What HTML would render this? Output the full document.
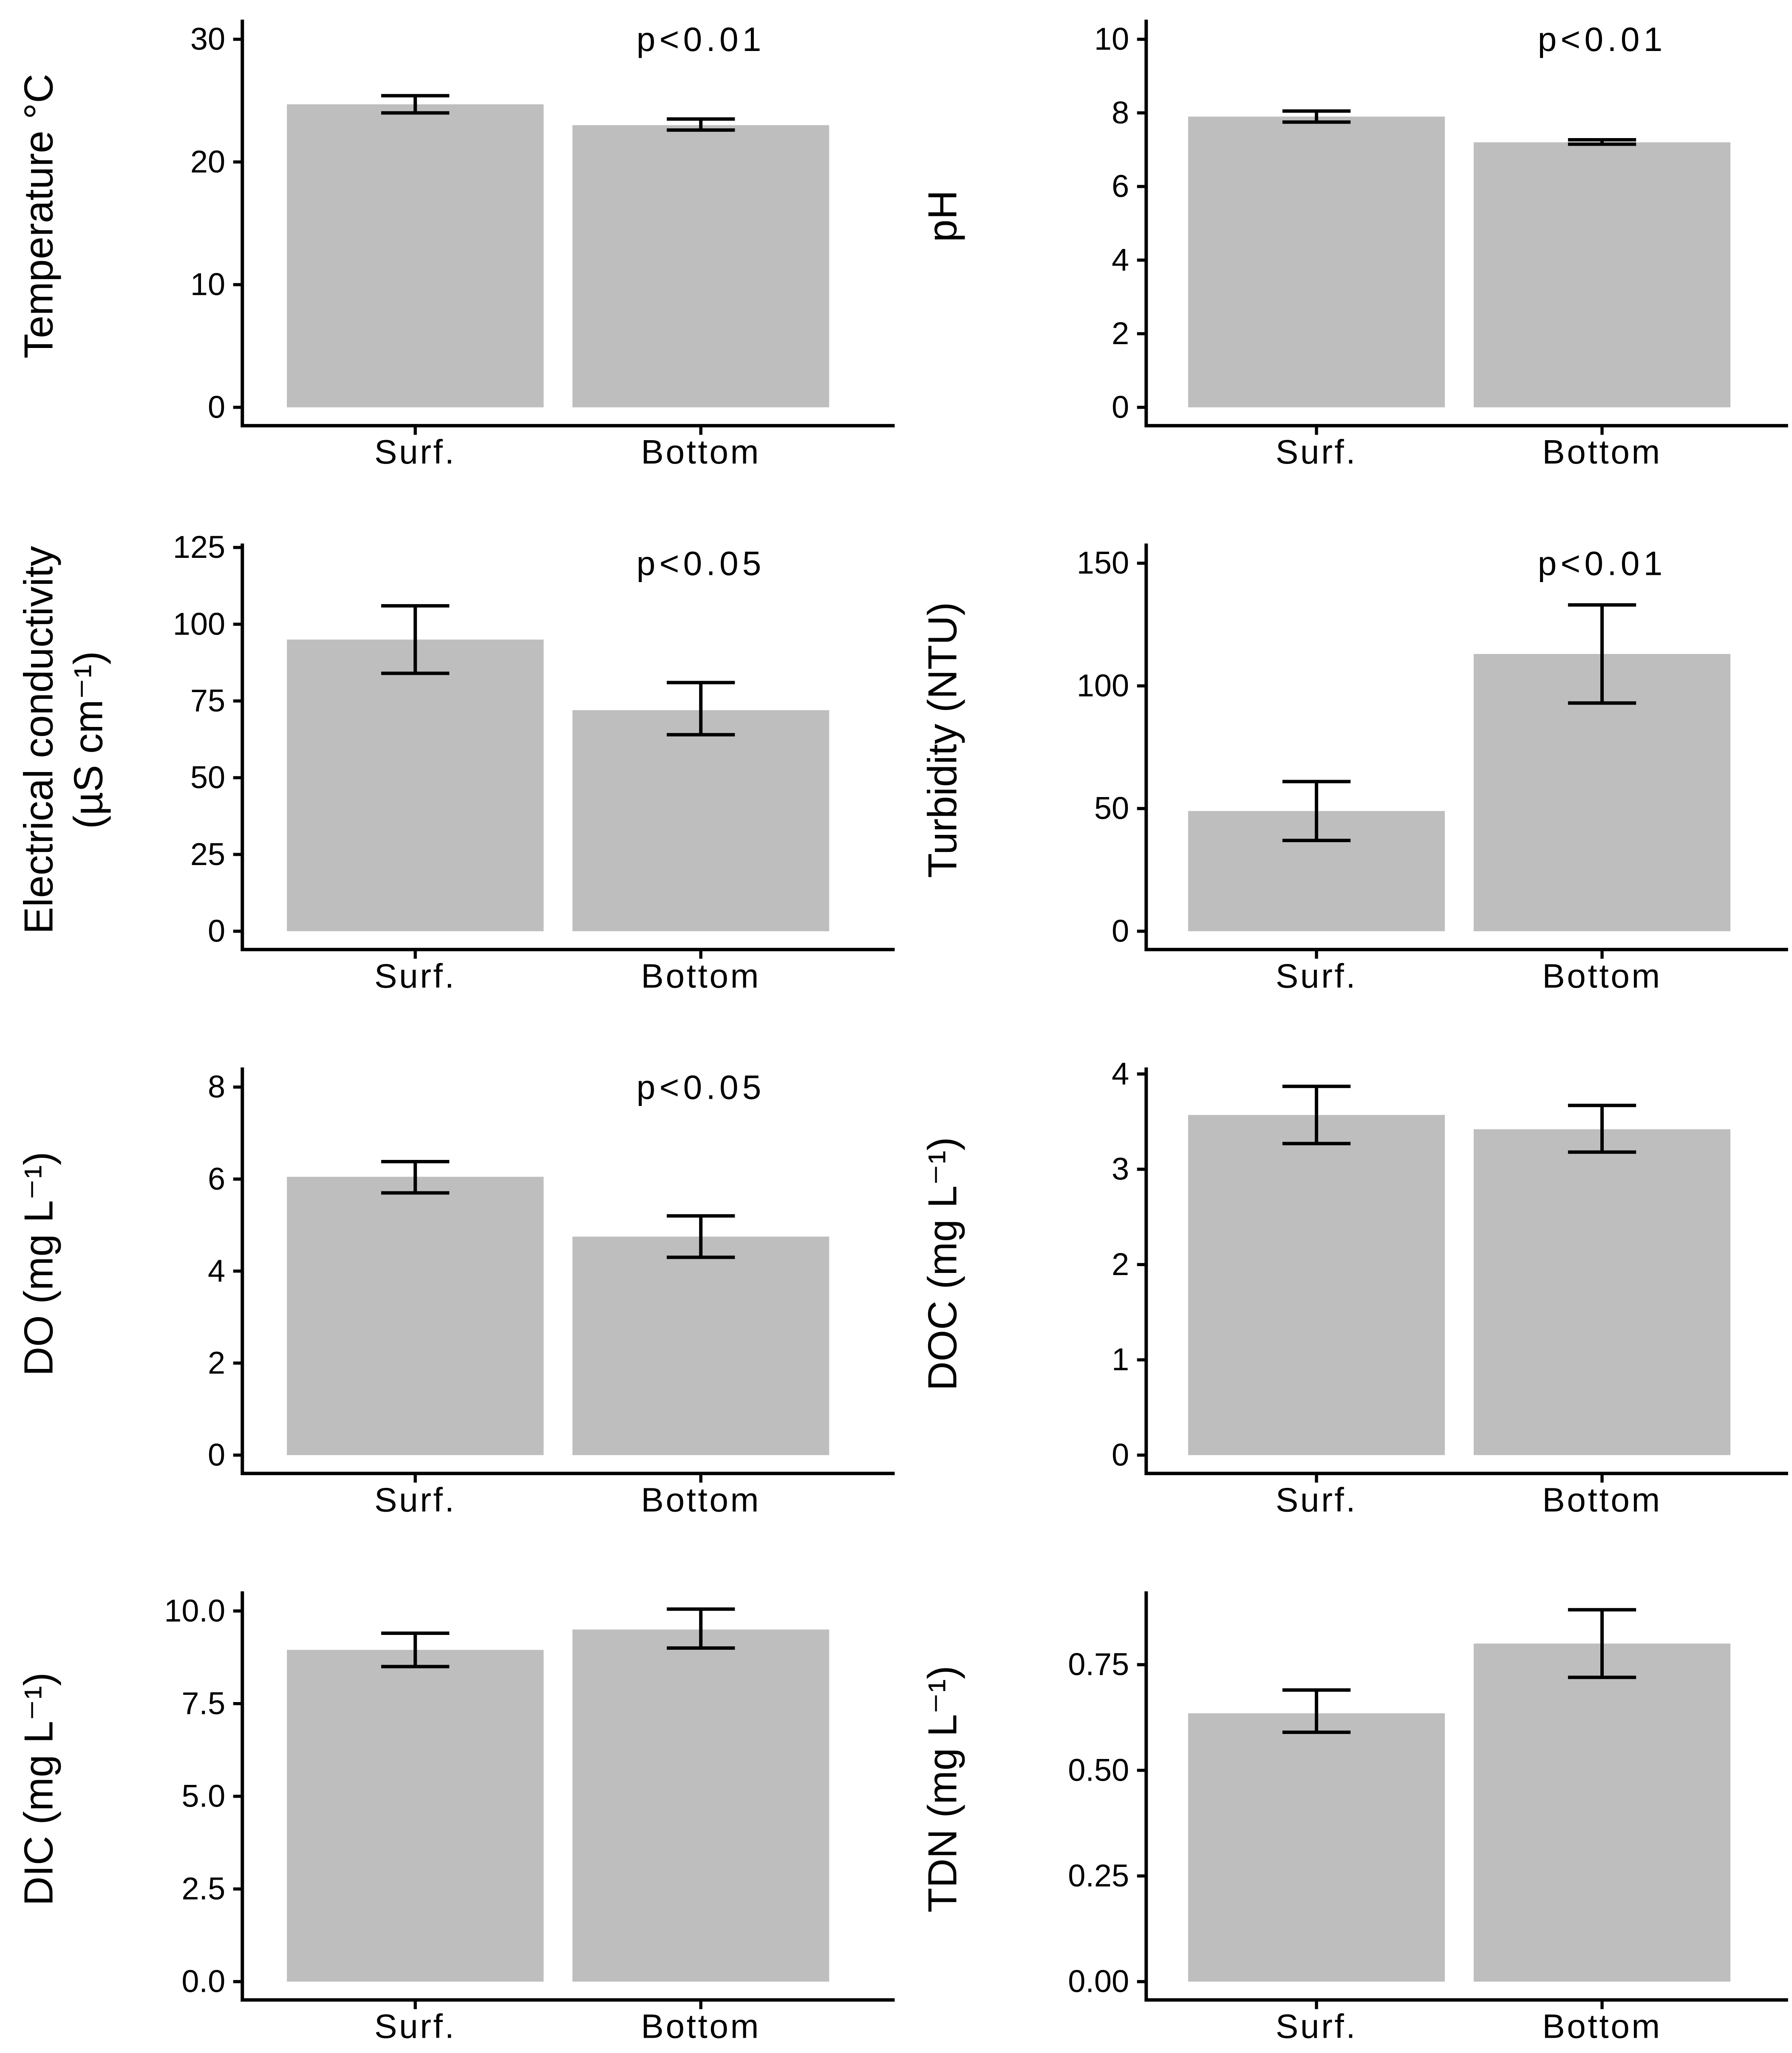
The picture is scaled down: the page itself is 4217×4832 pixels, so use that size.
<!DOCTYPE html>
<html><head><meta charset="utf-8"><style>
html,body{margin:0;padding:0;background:#fff;}
svg{display:block;}
text{font-family:"Liberation Sans",Arial,sans-serif;fill:#000;}
</style></head>
<body>
<svg id="chart" width="4217" height="4832" viewBox="0 0 1368 1567.5" preserveAspectRatio="none" xmlns="http://www.w3.org/2000/svg"></svg>
<script>
const categories = ["Surf.", "Bottom"];
const panelNames = ["temperature","ph","conductivity","turbidity","do","doc","dic","tdn"];
const titles = [["Temperature \u00B0C"],["pH"],["Electrical conductivity","(\u00B5S cm\u207B\u00B9)"],["Turbidity (NTU)"],["DO (mg L\u207B\u00B9)"],["DOC (mg L\u207B\u00B9)"],["DIC (mg L\u207B\u00B9)"],["TDN (mg L\u207B\u00B9)"]];
const means = [[24.7,23.0],[7.9,7.2],[95,72],[49,113],[6.05,4.75],[3.57,3.42],[8.95,9.5],[0.635,0.80]];
const lows  = [[24.0,22.6],[7.75,7.15],[84,64],[37,93],[5.7,4.3],[3.27,3.18],[8.5,9.0],[0.59,0.72]];
const highs = [[25.4,23.5],[8.05,7.27],[106,81],[61,133],[6.38,5.2],[3.87,3.67],[9.4,10.05],[0.69,0.88]];
const tickVals = [[0,10,20,30],[0,2,4,6,8,10],[0,25,50,75,100,125],[0,50,100,150],[0,2,4,6,8],[0,1,2,3,4],[0,2.5,5,7.5,10],[0,0.25,0.5,0.75]];
const tickLabels = [["0","10","20","30"],["0","2","4","6","8","10"],["0","25","50","75","100","125"],["0","50","100","150"],["0","2","4","6","8"],["0","1","2","3","4"],["0.0","2.5","5.0","7.5","10.0"],["0.00","0.25","0.50","0.75"]];
const pLabels = ["p<0.01","p<0.01","p<0.05","p<0.01","p<0.05","","",""];
// layout (not data)
const rowTop=[15,415,815,1215], rowBot=[325,725,1125,1527], zeroY=[311,711,1111,1513];
const topValY=[30,30,418,430,830,820,1230,1271];
const NS="http://www.w3.org/2000/svg";
const svg=document.getElementById('chart');
function mk(tag,attrs,parent){const e=document.createElementNS(NS,tag);for(const k in attrs)e.setAttribute(k,attrs[k]);(parent||svg).appendChild(e);return e;}
panelNames.forEach((nm,i)=>{
  const col=i%2,row=Math.floor(i/2);
  const ax=col?875:185, xEnd=col?1365:683;
  const y0=zeroY[row], tv=tickVals[i];
  const tmax=tv[tv.length-1];
  const ys=v=>y0-(v/tmax)*(y0-topValY[i]);
  const barX=[col?907:219, col?1125:437], bw=196;
  const g=mk('g',{});
  
  
  categories.forEach((c,j)=>{
    const r=mk('rect',{x:barX[j],y:ys(means[i][j]),width:bw,height:y0-ys(means[i][j]),fill:'#bebebe'},g);
    
    
    const cx=barX[j]+bw/2;
    const eb=mk('path',{d:`M${cx-26},${ys(highs[i][j])}H${cx+26}M${cx},${ys(highs[i][j])}V${ys(lows[i][j])}M${cx-26},${ys(lows[i][j])}H${cx+26}`,stroke:'#000','stroke-width':2.6,fill:'none'},g);
    
    
    mk('line',{x1:cx,x2:cx,y1:rowBot[row],y2:rowBot[row]+7,stroke:'#000','stroke-width':2.4},g);
    const t=mk('text',{x:cx,y:rowBot[row]+29,'font-size':26,'letter-spacing':1.5,'text-anchor':'middle'},g);
    t.textContent=c;
    
    
  });
  const axl=mk('path',{d:`M${ax},${rowTop[row]}V${rowBot[row]}H${xEnd}`,stroke:'#000','stroke-width':2.6,fill:'none'},g);
  
  
  tv.forEach((v,k)=>{
    mk('line',{x1:ax-7,x2:ax,y1:ys(v),y2:ys(v),stroke:'#000','stroke-width':2.4},g);
    const t=mk('text',{x:ax-13,y:ys(v)+8,'font-size':24,'text-anchor':'end'},g);
    t.textContent=tickLabels[i][k];
    
    
  });
  if(pLabels[i]){
    const p=mk('text',{x:barX[1]+bw/2,y:rowTop[row]+24,'font-size':26,'letter-spacing':3,'text-anchor':'middle'},g);
    p.textContent=pLabels[i];
    
    
  }
  const tl=titles[i], cy=(rowTop[row]+rowBot[row])/2-5;
  tl.forEach((s,k)=>{
    const tx=(col?720:30)+k*38;
    const t=mk('text',{x:0,y:0,'font-size':31,'text-anchor':'middle',transform:`translate(${tx+10},${cy}) rotate(-90)`},g);
    t.textContent=s;
    
    
  });
});
</script>
</body></html>
